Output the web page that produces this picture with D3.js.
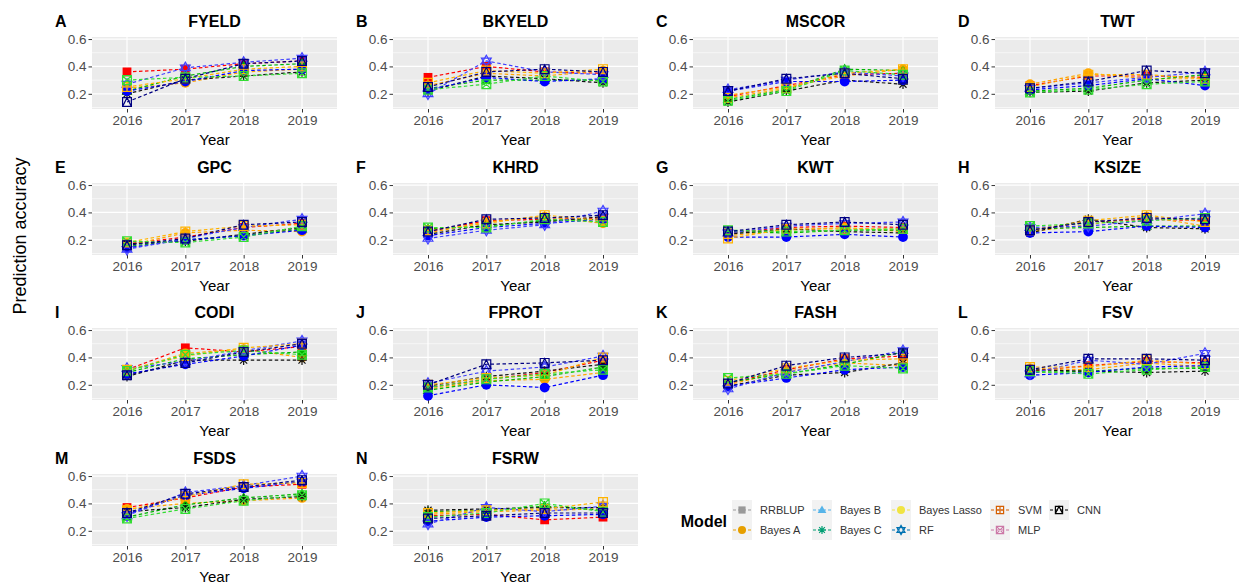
<!DOCTYPE html>
<html>
<head>
<meta charset="utf-8">
<script src="https://cdn.jsdelivr.net/npm/d3@7"></script>
<style>
  html, body { margin: 0; padding: 0; background: #fff; }
  svg { display: block; font-family: "Liberation Sans", Arial, sans-serif; }
</style>
</head>
<body>
<svg id="chart" width="1239" height="586"></svg>
<script>
// ---- data ----------------------------------------------------------------
const years = ["2016", "2017", "2018", "2019"];
const models = ["RRBLUP", "Bayes A", "Bayes B", "Bayes C", "Bayes Lasso", "RF", "SVM", "MLP", "CNN"];
const traits = ["FYELD", "BKYELD", "MSCOR", "TWT", "GPC", "KHRD", "KWT", "KSIZE",
                "CODI", "FPROT", "FASH", "FSV", "FSDS", "FSRW"];
const panelTags = ["A", "B", "C", "D", "E", "F", "G", "H", "I", "J", "K", "L", "M", "N"];
const yTicks = [0.2, 0.4, 0.6];

// prediction accuracy per trait: one row per model (models order), one value per year
const fyeld = [
  [0.36, 0.38, 0.42, 0.44], [0.24, 0.28, 0.36, 0.38], [0.22, 0.33, 0.40, 0.42],
  [0.20, 0.30, 0.33, 0.36], [0.22, 0.29, 0.37, 0.38], [0.27, 0.39, 0.43, 0.46],
  [0.25, 0.31, 0.38, 0.40], [0.30, 0.32, 0.33, 0.35], [0.14, 0.31, 0.42, 0.44]];
const bkyeld = [
  [0.32, 0.40, 0.36, 0.35], [0.26, 0.35, 0.33, 0.37], [0.24, 0.30, 0.30, 0.30],
  [0.22, 0.33, 0.31, 0.28], [0.23, 0.32, 0.29, 0.31], [0.20, 0.44, 0.36, 0.34],
  [0.28, 0.37, 0.35, 0.38], [0.23, 0.27, 0.33, 0.29], [0.25, 0.36, 0.38, 0.36]];
const mscor = [
  [0.18, 0.26, 0.34, 0.35], [0.19, 0.25, 0.33, 0.38], [0.16, 0.23, 0.38, 0.37],
  [0.14, 0.22, 0.30, 0.27], [0.22, 0.29, 0.29, 0.30], [0.23, 0.30, 0.36, 0.33],
  [0.17, 0.24, 0.35, 0.38], [0.15, 0.22, 0.37, 0.34], [0.22, 0.31, 0.35, 0.31]];
const twt = [
  [0.26, 0.33, 0.33, 0.32], [0.27, 0.35, 0.31, 0.31], [0.22, 0.24, 0.30, 0.34],
  [0.21, 0.22, 0.28, 0.30], [0.23, 0.26, 0.31, 0.26], [0.24, 0.28, 0.32, 0.36],
  [0.25, 0.34, 0.34, 0.31], [0.21, 0.23, 0.27, 0.29], [0.24, 0.29, 0.37, 0.35]];
const gpc = [
  [0.17, 0.22, 0.29, 0.32], [0.16, 0.25, 0.27, 0.26], [0.15, 0.20, 0.23, 0.28],
  [0.17, 0.19, 0.24, 0.29], [0.14, 0.20, 0.23, 0.27], [0.13, 0.21, 0.29, 0.35],
  [0.18, 0.26, 0.30, 0.31], [0.19, 0.18, 0.22, 0.30], [0.16, 0.21, 0.31, 0.33]];
const khrd = [
  [0.26, 0.34, 0.35, 0.36], [0.25, 0.33, 0.37, 0.32], [0.28, 0.30, 0.34, 0.35],
  [0.24, 0.31, 0.33, 0.37], [0.23, 0.29, 0.32, 0.35], [0.21, 0.27, 0.31, 0.41],
  [0.27, 0.32, 0.38, 0.34], [0.29, 0.29, 0.35, 0.33], [0.26, 0.35, 0.36, 0.38]];
const kwt = [
  [0.25, 0.29, 0.30, 0.29], [0.23, 0.27, 0.29, 0.26], [0.26, 0.25, 0.27, 0.27],
  [0.24, 0.28, 0.26, 0.25], [0.22, 0.22, 0.24, 0.22], [0.25, 0.30, 0.32, 0.33],
  [0.21, 0.28, 0.28, 0.28], [0.27, 0.26, 0.27, 0.28], [0.26, 0.31, 0.33, 0.31]];
const ksize = [
  [0.27, 0.33, 0.35, 0.34], [0.26, 0.31, 0.37, 0.30], [0.28, 0.29, 0.30, 0.30],
  [0.25, 0.35, 0.29, 0.28], [0.25, 0.26, 0.30, 0.29], [0.29, 0.30, 0.34, 0.39],
  [0.27, 0.34, 0.38, 0.33], [0.30, 0.32, 0.34, 0.36], [0.27, 0.33, 0.36, 0.35]];
const codi = [
  [0.31, 0.47, 0.44, 0.48], [0.30, 0.43, 0.46, 0.40], [0.29, 0.39, 0.42, 0.44],
  [0.26, 0.38, 0.38, 0.38], [0.28, 0.35, 0.41, 0.49], [0.32, 0.37, 0.45, 0.52],
  [0.31, 0.41, 0.47, 0.50], [0.30, 0.42, 0.45, 0.42], [0.27, 0.36, 0.44, 0.50]];
const fprot = [
  [0.18, 0.24, 0.29, 0.38], [0.17, 0.23, 0.24, 0.29], [0.16, 0.22, 0.26, 0.33],
  [0.19, 0.26, 0.30, 0.35], [0.12, 0.20, 0.18, 0.27], [0.21, 0.30, 0.33, 0.41],
  [0.20, 0.25, 0.27, 0.40], [0.18, 0.24, 0.28, 0.31], [0.20, 0.35, 0.36, 0.38]];
const fash = [
  [0.21, 0.31, 0.39, 0.41], [0.20, 0.30, 0.36, 0.34], [0.22, 0.28, 0.35, 0.44],
  [0.19, 0.27, 0.29, 0.36], [0.19, 0.25, 0.31, 0.33], [0.17, 0.29, 0.37, 0.45],
  [0.23, 0.32, 0.38, 0.39], [0.25, 0.28, 0.34, 0.32], [0.21, 0.34, 0.40, 0.43]];
const fsv = [
  [0.30, 0.34, 0.37, 0.36], [0.32, 0.31, 0.36, 0.33], [0.29, 0.30, 0.32, 0.32],
  [0.31, 0.30, 0.29, 0.30], [0.27, 0.29, 0.33, 0.34], [0.28, 0.38, 0.35, 0.43],
  [0.33, 0.33, 0.38, 0.35], [0.30, 0.28, 0.31, 0.33], [0.31, 0.39, 0.39, 0.38]];
const fsds = [
  [0.37, 0.44, 0.52, 0.54], [0.36, 0.40, 0.42, 0.44], [0.30, 0.39, 0.44, 0.47],
  [0.34, 0.37, 0.43, 0.45], [0.32, 0.46, 0.51, 0.56], [0.31, 0.48, 0.53, 0.60],
  [0.35, 0.45, 0.54, 0.55], [0.29, 0.36, 0.42, 0.46], [0.33, 0.47, 0.52, 0.57]];
const fsrw = [
  [0.31, 0.32, 0.28, 0.30], [0.32, 0.34, 0.35, 0.36], [0.34, 0.35, 0.38, 0.35],
  [0.35, 0.36, 0.37, 0.37], [0.27, 0.30, 0.31, 0.32], [0.25, 0.37, 0.34, 0.38],
  [0.33, 0.35, 0.36, 0.41], [0.30, 0.33, 0.40, 0.34], [0.29, 0.31, 0.33, 0.33]];

const accuracy = [fyeld, bkyeld, mscor, twt, gpc, khrd, kwt, ksize, codi, fprot, fash, fsv, fsds, fsrw];

// ---- styling ---------------------------------------------------------------
const panelColors  = ["#FF0000", "#FFA500", "#00B400", "#111111", "#0000FF",
                      "#3F3FFF", "#FFB300", "#33DD33", "#000080"];
const legendColors = ["#999999", "#E69F00", "#56B4E9", "#009E73", "#F0E442",
                      "#0072B2", "#D55E00", "#CC79A7", "#000000"];
const shapes = ["square", "circle", "triangle", "asterisk", "circle",
                "star6", "squarePlus", "squareCross", "squareTriangle"];

const colLeft = [92, 393, 693, 995];
const rowTop = [37, 183, 328, 474];
const panelW = 245, panelH = 72;

const svg = d3.select("#chart");
const fontTick = 13.5;

const x = d3.scalePoint().domain(years).range([0, panelW]).padding(0.6);
const y = d3.scaleLinear().domain([0.089, 0.615]).range([panelH, 0]);

// draws one ggplot-like point symbol centred at (0,0)
function drawSymbol(g, shape, color, r) {
  const sw = 1.2;
  const s = r * 0.9;
  switch (shape) {
    case "square":
      g.append("rect").attr("x", -s).attr("y", -s).attr("width", 2 * s).attr("height", 2 * s)
        .attr("fill", color);
      break;
    case "circle":
      g.append("circle").attr("r", r).attr("fill", color);
      break;
    case "triangle": {
      const h = r * 1.15;
      g.append("path").attr("d", `M0,${-h}L${h * 0.95},${h * 0.65}L${-h * 0.95},${h * 0.65}Z`)
        .attr("fill", color);
      break;
    }
    case "asterisk": {
      const a = r, b = r * 0.72;
      g.append("path")
        .attr("d", `M${-a},0L${a},0M0,${-a}L0,${a}M${-b},${-b}L${b},${b}M${-b},${b}L${b},${-b}`)
        .attr("stroke", color).attr("stroke-width", sw).attr("fill", "none");
      break;
    }
    case "star6": {
      const h = r * 1.15;
      g.append("path")
        .attr("d", `M0,${-h}L${h * 0.87},${h * 0.5}L${-h * 0.87},${h * 0.5}Z` +
                   `M0,${h}L${h * 0.87},${-h * 0.5}L${-h * 0.87},${-h * 0.5}Z`)
        .attr("stroke", color).attr("stroke-width", sw).attr("fill", "none");
      break;
    }
    case "squarePlus":
      g.append("path")
        .attr("d", `M${-s},${-s}H${s}V${s}H${-s}ZM${-s},0H${s}M0,${-s}V${s}`)
        .attr("stroke", color).attr("stroke-width", sw).attr("fill", "none");
      break;
    case "squareCross":
      g.append("path")
        .attr("d", `M${-s},${-s}H${s}V${s}H${-s}ZM${-s},${-s}L${s},${s}M${-s},${s}L${s},${-s}`)
        .attr("stroke", color).attr("stroke-width", sw).attr("fill", "none");
      break;
    case "squareTriangle":
      g.append("path")
        .attr("d", `M${-s},${-s}H${s}V${s}H${-s}ZM${-s},${s}L0,${-s}L${s},${s}`)
        .attr("stroke", color).attr("stroke-width", sw).attr("fill", "none");
      break;
  }
}

// ---- panels ----------------------------------------------------------------
const line = d3.line().x((d, i) => x(years[i])).y(d => y(d));

traits.forEach((trait, k) => {
  const col = k % 4, row = Math.floor(k / 4);
  const g = svg.append("g").attr("transform", `translate(${colLeft[col]},${rowTop[row]})`);

  // background and grid
  g.append("rect").attr("width", panelW).attr("height", panelH).attr("fill", "#EBEBEB");
  const minor = [0.1, 0.3, 0.5].filter(v => y(v) >= 0 && y(v) <= panelH);
  g.selectAll(".minor").data(minor).join("line")
    .attr("x1", 0).attr("x2", panelW).attr("y1", d => y(d)).attr("y2", d => y(d))
    .attr("stroke", "#fff").attr("stroke-width", 0.6);
  g.selectAll(".majorY").data(yTicks).join("line")
    .attr("x1", 0).attr("x2", panelW).attr("y1", d => y(d)).attr("y2", d => y(d))
    .attr("stroke", "#fff").attr("stroke-width", 1.2);
  g.selectAll(".majorX").data(years).join("line")
    .attr("x1", d => x(d)).attr("x2", d => x(d)).attr("y1", 0).attr("y2", panelH)
    .attr("stroke", "#fff").attr("stroke-width", 1.2);

  // axes
  const ay = g.append("g")
    .call(d3.axisLeft(y).tickValues(yTicks).tickFormat(d3.format(".1f")).tickSize(3.5).tickPadding(2));
  const ax = g.append("g").attr("transform", `translate(0,${panelH})`)
    .call(d3.axisBottom(x).tickSize(3.5).tickPadding(2.5));
  [ay, ax].forEach(a => {
    a.select(".domain").remove();
    a.selectAll(".tick line").attr("stroke", "#333");
    a.selectAll(".tick text").attr("fill", "#4D4D4D").style("font-size", fontTick + "px")
      .style("font-family", "'Liberation Sans', Arial, sans-serif");
  });

  // series lines then points
  const series = accuracy[k];
  g.selectAll(".series").data(series).join("path")
    .attr("d", d => line(d))
    .attr("fill", "none")
    .attr("stroke", (d, i) => panelColors[i])
    .attr("stroke-width", 1.2)
    .attr("stroke-dasharray", "3.5,2.5");
  series.forEach((vals, m) => {
    vals.forEach((v, i) => {
      const pg = g.append("g").attr("transform", `translate(${x(years[i])},${y(v)})`);
      drawSymbol(pg, shapes[m], panelColors[m], 4.9);
    });
  });

  // titles
  g.append("text").attr("x", panelW / 2).attr("y", -10.5).attr("text-anchor", "middle")
    .attr("font-weight", "bold").attr("font-size", 16).attr("fill", "#000").text(trait);
  g.append("text").attr("x", -37).attr("y", -10.5).attr("font-weight", "bold")
    .attr("font-size", 16).attr("fill", "#000").text(panelTags[k]);
  g.append("text").attr("x", panelW / 2).attr("y", panelH + 35.5).attr("text-anchor", "middle")
    .attr("font-size", 15).attr("fill", "#000").text("Year");
});

// shared y-axis title
svg.append("text")
  .attr("transform", "translate(26,236) rotate(-90)")
  .attr("text-anchor", "middle").attr("font-size", 18).attr("fill", "#000")
  .text("Prediction accuracy");

// ---- legend ----------------------------------------------------------------
const legend = svg.append("g");
legend.append("text").attr("x", 727).attr("y", 527).attr("text-anchor", "end")
  .attr("font-weight", "bold").attr("font-size", 16).attr("fill", "#000").text("Model");
const keyX = [732, 812, 891, 990, 1049];
const keyY = [500, 520];
models.forEach((name, m) => {
  const c = Math.floor(m / 2), r = m % 2;
  const kg = legend.append("g").attr("transform", `translate(${keyX[c]},${keyY[r]})`);
  kg.append("rect").attr("width", 20).attr("height", 20).attr("fill", "#F2F2F2");
  kg.append("line").attr("x1", 1).attr("x2", 19).attr("y1", 10).attr("y2", 10)
    .attr("stroke", legendColors[m]).attr("stroke-width", 1).attr("stroke-dasharray", "3,2");
  const sg = kg.append("g").attr("transform", "translate(10,10)");
  drawSymbol(sg, shapes[m], legendColors[m], 4);
  legend.append("text").attr("x", keyX[c] + 28).attr("y", keyY[r] + 14)
    .attr("font-size", 11).attr("fill", "#333").text(name);
});
</script>
</body>
</html>
